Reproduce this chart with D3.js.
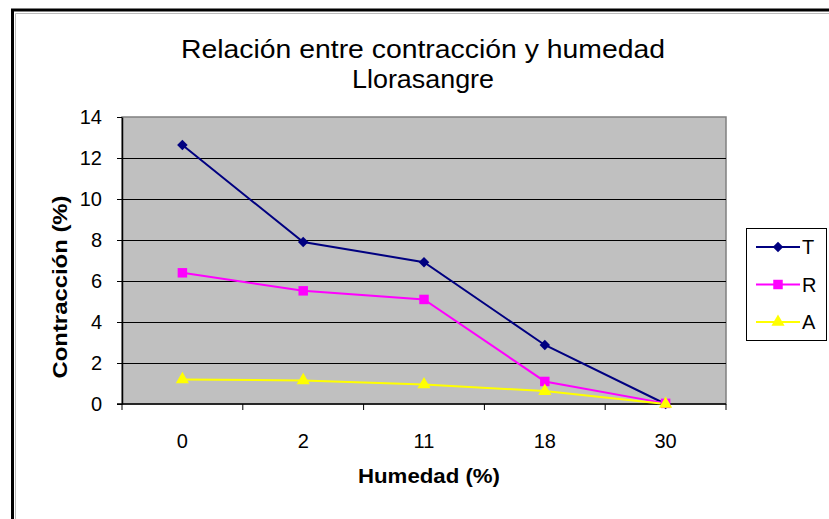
<!DOCTYPE html>
<html>
<head>
<meta charset="utf-8">
<script src="https://cdn.jsdelivr.net/npm/d3@7"></script>
<style>
    body { margin: 0; background: #fff; }
    svg { display: block; font-family: "Liberation Sans", Arial, sans-serif; }
    .grid line { stroke: #000; stroke-width: 1px; }
    .axis path, .axis line { stroke: #000; }
</style>
</head>
<body>
<svg id="chart" width="829" height="519"></svg>
<script>
    // data
    const categories = ['0', '2', '11', '18', '30'];
    const serieT = [12.63, 7.9, 6.92, 2.88, 0];
    const serieR = [6.4, 5.52, 5.1, 1.1, 0.03];
    const serieA = [1.2, 1.15, 0.95, 0.63, 0];
    const seriesNames = ['T', 'R', 'A'];
    const yTicks = [0, 2, 4, 6, 8, 10, 12, 14];

    const colors = {T: '#000080', R: '#ff00ff', A: '#ffff00'};

    const diamond = {
        draw(ctx, size) {
            const r = Math.sqrt(size) / 2;
            ctx.moveTo(0, -r); ctx.lineTo(r, 0); ctx.lineTo(0, r); ctx.lineTo(-r, 0); ctx.closePath();
        }
    };
    const shapes = {T: diamond, R: d3.symbolSquare, A: d3.symbolTriangle};
    const sizes = {T: 110, R: 90, A: 75};

    const series = [
        {name: 'T', values: serieT},
        {name: 'R', values: serieR},
        {name: 'A', values: serieA}
    ];

    const plot = {left: 122, right: 726, top: 117, bottom: 404};

    const svg = d3.select('#chart');

    // outer frame
    svg.append('path')
        .attr('d', 'M12.5,519 V10 H829')
        .attr('fill', 'none').attr('stroke', '#000').attr('stroke-width', 3);
    svg.append('path')
        .attr('d', 'M15.5,519 V13.5 H829')
        .attr('fill', 'none').attr('stroke', '#bbb').attr('stroke-width', 1);

    const x = d3.scaleBand().domain(categories).range([plot.left, plot.right]).padding(0);
    const y = d3.scaleLinear().domain([0, 14]).range([plot.bottom, plot.top]);

    // plot background
    svg.append('rect')
        .attr('x', plot.left).attr('y', plot.top)
        .attr('width', plot.right - plot.left).attr('height', plot.bottom - plot.top)
        .attr('fill', '#c0c0c0')
        .attr('stroke', '#808080').attr('stroke-width', 1.5);

    // gridlines
    svg.append('g').attr('class', 'grid')
        .selectAll('line').data(yTicks.filter(d => d > 0 && d < 14)).join('line')
        .attr('x1', plot.left).attr('x2', plot.right)
        .attr('y1', d => Math.round(y(d)) + 0.5).attr('y2', d => Math.round(y(d)) + 0.5);

    // y axis
    const yAxis = svg.append('g').attr('class', 'axis')
        .attr('transform', `translate(${plot.left},0)`)
        .call(d3.axisLeft(y).tickValues(yTicks).tickSize(5).tickPadding(15).tickSizeOuter(0));
    yAxis.selectAll('text').attr('font-size', 20).attr('font-family', null).attr('fill', '#000');
    yAxis.select('.domain').attr('stroke-width', 1.5);

    // x axis: ticks between categories, labels centered
    const xAxis = svg.append('g').attr('class', 'axis');
    xAxis.append('line')
        .attr('x1', plot.left - 5).attr('x2', plot.right)
        .attr('y1', plot.bottom).attr('y2', plot.bottom)
        .attr('stroke-width', 1.5);
    const bounds = categories.map(c => x(c)).concat([x(categories[categories.length - 1]) + x.bandwidth()]);
    xAxis.selectAll('line.tick').data(bounds).join('line')
        .attr('class', 'tick')
        .attr('x1', d => d).attr('x2', d => d)
        .attr('y1', plot.bottom).attr('y2', plot.bottom + 6);
    xAxis.selectAll('text').data(categories).join('text')
        .attr('x', d => x(d) + x.bandwidth() / 2)
        .attr('y', 448)
        .attr('text-anchor', 'middle')
        .attr('font-size', 20)
        .text(d => d);

    // lines and markers
    const line = d3.line()
        .x((d, i) => x(categories[i]) + x.bandwidth() / 2)
        .y(d => y(d));

    series.forEach(s => {
        svg.append('path')
            .attr('d', line(s.values))
            .attr('fill', 'none')
            .attr('stroke', colors[s.name])
            .attr('stroke-width', 2);
    });
    series.forEach(s => {
        svg.append('g').selectAll('path').data(s.values).join('path')
            .attr('transform', (d, i) => `translate(${x(categories[i]) + x.bandwidth() / 2},${y(d)})`)
            .attr('d', d3.symbol().type(shapes[s.name]).size(sizes[s.name]))
            .attr('fill', colors[s.name]);
    });

    // titles
    svg.append('text')
        .attr('x', 423).attr('y', 58)
        .attr('text-anchor', 'middle')
        .attr('font-size', 26)
        .attr('textLength', 484).attr('lengthAdjust', 'spacingAndGlyphs')
        .text('Relación entre contracción y humedad');
    svg.append('text')
        .attr('x', 423).attr('y', 88)
        .attr('text-anchor', 'middle')
        .attr('font-size', 26)
        .attr('textLength', 142).attr('lengthAdjust', 'spacingAndGlyphs')
        .text('Llorasangre');

    svg.append('text')
        .attr('x', 429).attr('y', 483)
        .attr('text-anchor', 'middle')
        .attr('font-size', 20).attr('font-weight', 'bold')
        .attr('textLength', 142).attr('lengthAdjust', 'spacingAndGlyphs')
        .text('Humedad (%)');

    svg.append('text')
        .attr('transform', 'translate(67,287) rotate(-90)')
        .attr('text-anchor', 'middle')
        .attr('font-size', 20).attr('font-weight', 'bold')
        .attr('textLength', 183).attr('lengthAdjust', 'spacingAndGlyphs')
        .text('Contracción (%)');

    // legend
    const legend = svg.append('g').attr('transform', 'translate(746,228)');
    legend.append('rect')
        .attr('x', 0.5).attr('y', 0.5).attr('width', 80).attr('height', 112)
        .attr('fill', '#fff').attr('stroke', '#000');
    const rowY = d3.scalePoint().domain(seriesNames).range([19, 94]);
    const item = legend.selectAll('g.item').data(seriesNames).join('g')
        .attr('class', 'item')
        .attr('transform', d => `translate(0,${rowY(d)})`);
    item.append('line')
        .attr('x1', 10).attr('x2', 54)
        .attr('stroke', d => colors[d]).attr('stroke-width', 2);
    item.append('path')
        .attr('transform', 'translate(32,0)')
        .attr('d', d => d3.symbol().type(shapes[d]).size(sizes[d])())
        .attr('fill', d => colors[d]);
    item.append('text')
        .attr('x', 56).attr('y', 7)
        .attr('font-size', 20)
        .text(d => d);
</script>
</body>
</html>
